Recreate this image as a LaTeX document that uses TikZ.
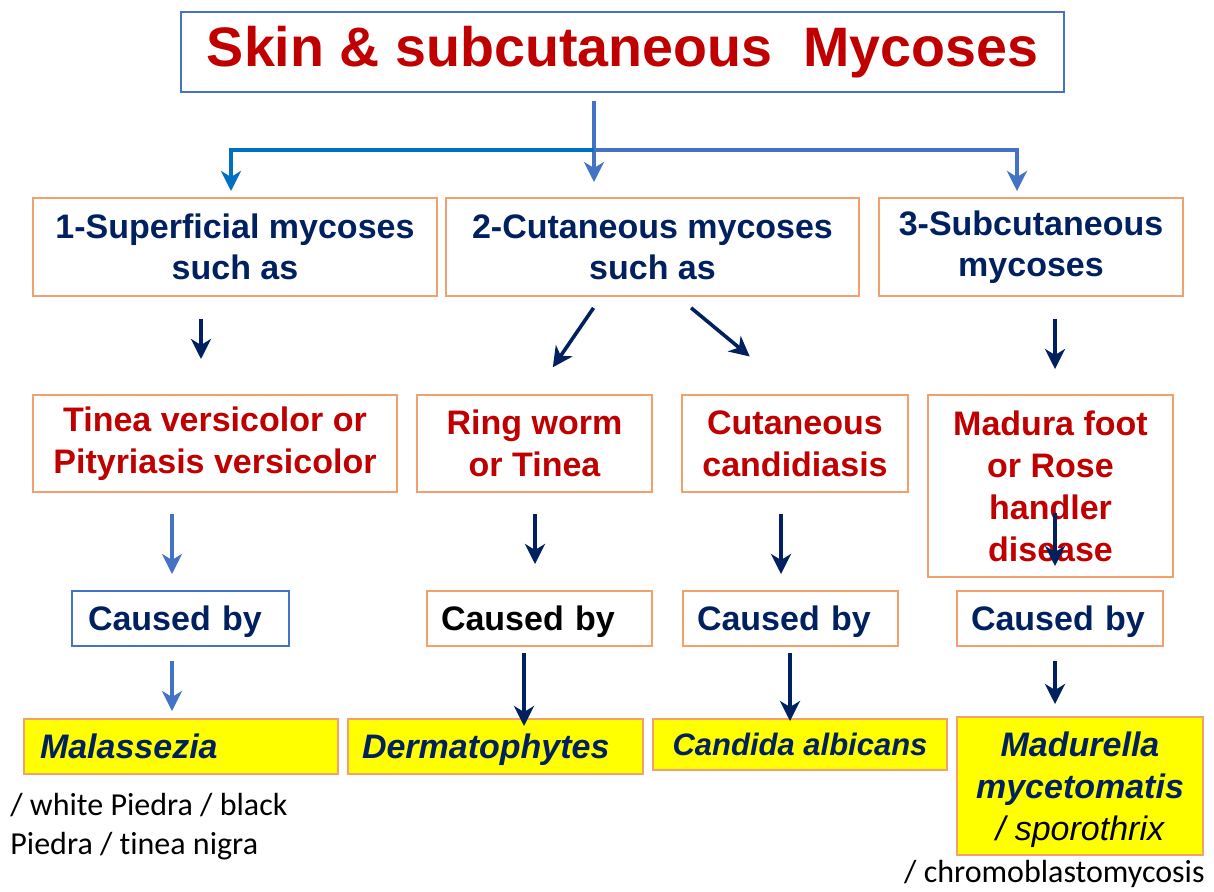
\documentclass[tikz,border=0pt]{standalone}
\usepackage{fontspec}
\setmainfont{Liberation Sans}
\newfontfamily\calib[Ligatures=NoCommon]{Carlito}
\usetikzlibrary{arrows.meta,positioning}
\definecolor{titlered}{HTML}{C00000}
\definecolor{navy}{HTML}{002060}
\definecolor{boxorange}{RGB}{244,160,110}
\definecolor{boxblue}{HTML}{4472C4}
\definecolor{deepblue}{HTML}{0070C0}
\definecolor{hiyellow}{HTML}{FFFF00}

\begin{document}
\begin{tikzpicture}[
            x=0.5pt, y=-0.5pt,
            box/.style={rectangle, draw=boxorange, line width=1pt, align=center, inner sep=0pt, text=navy, font=\bfseries\fontsize{17}{20.5}\selectfont},
            redbox/.style={box, text=titlered, font=\bfseries\fontsize{17}{21}\selectfont},
            causebox/.style={box, minimum height=27.5pt, text depth=0pt, inner xsep=7pt, align=left},
            germbox/.style={box, fill=hiyellow, minimum height=27.5pt, text depth=0pt, font=\bfseries\itshape\fontsize{17}{21}\selectfont},
            note/.style={inner sep=0pt, align=left, font=\calib\fontsize{16}{19.5}\selectfont},
            bluearr/.style={-{Stealth[length=10pt,width=10pt,inset=3pt]}, line width=2pt, draw=boxblue},
            navyarr/.style={-{Stealth[length=10pt,width=10pt,inset=3pt]}, line width=1.8pt, draw=navy}
        ]
            \useasboundingbox (0,0) rectangle (1214,891);

            % --- TITULO ---
            \node[rectangle, draw=boxblue, line width=0.8pt, minimum width=441.5pt, minimum height=40pt, inner sep=0pt, text=titlered, font=\bfseries\fontsize{27.8}{32}\selectfont] (title) at (622.5,52) {Skin \& subcutaneous\ \ Mycoses};

            % --- TIPOS ---
            \node[box, minimum width=202pt, minimum height=49pt] (sup) at (235,247) {1-Superficial mycoses\\such as};
            \node[box, minimum width=206.5pt, minimum height=49pt] (cut) at (652.5,247) {2-Cutaneous mycoses\\such as};
            \node[box, minimum width=152pt, minimum height=49pt] (subc) at (1031,247) {3-Subcutaneous\\mycoses};

            % --- DOENCAS ---
            \node[redbox, minimum width=182pt, minimum height=48.5pt] (tinea) at (215,443.5) {Tinea versicolor or\\Pityriasis versicolor};
            \node[redbox, minimum width=117.5pt, minimum height=48.5pt] (ring) at (534.5,443.5) {Ring worm\\or Tinea};
            \node[redbox, minimum width=113pt, minimum height=48.5pt] (cand) at (795,443.5) {Cutaneous\\candidiasis};
            \node[redbox, minimum width=122.5pt, minimum height=91pt] (madura) at (1050.5,486) {Madura foot\\or Rose\\handler\\disease};

            % --- CAUSED BY ---
            \node[causebox, draw=boxblue, inner xsep=8pt, text width=92.5pt] (cb1) at (180.5,618.5) {Caused by};
            \node[causebox, text=black, text width=98.5pt] (cb2) at (539.5,618.5) {Caused by};
            \node[causebox, text width=93.5pt] (cb3) at (790.5,618.5) {Caused by};
            \node[causebox, text width=89pt] (cb4) at (1060,618.5) {Caused by};

            % --- AGENTES ---
            \node[germbox, minimum width=157pt, text width=141pt, inner xsep=8pt, align=left] (mal) at (181,746.5) {Malassezia};
            \node[germbox, minimum width=147.5pt, text width=133.5pt, inner xsep=7pt, align=left] (derm) at (495.5,746.5) {Dermatophytes};
            \node[germbox, minimum width=147pt, minimum height=25.5pt, font=\bfseries\itshape\fontsize{15.5}{19}\selectfont] (calb) at (800,744.5) {Candida albicans};
            \node[germbox, minimum width=123pt, minimum height=69pt] (madur) at (1080,786) {Madurella\\mycetomatis\\{\normalfont\itshape\color{black}/ sporothrix}};

            % --- NOTAS ---
            \node[note, anchor=north west] (piedra) at (10,793) {/ white Piedra / black\\Piedra / tinea nigra};
            \node[note, anchor=base east] (chromo) at (1205,882) {/ chromoblastomycosis};

            % Ligacoes do titulo para os tres tipos
            \coordinate (fork) at (594,150);
            \draw[bluearr, shorten <=4pt, shorten >=7.5pt] (594,0 |- title.south) -- (594,0 |- cut.north);
            \draw[bluearr, draw=deepblue, shorten >=3pt] (fork) -| (231,0 |- sup.north);
            \draw[bluearr, shorten >=3pt] (fork) -| (1017,0 |- subc.north);

            % Tipos -> doencas
            \draw[navyarr, shorten <=11pt, shorten >=17.5pt] (201,0 |- sup.south) -- (201,0 |- tinea.north);
            \draw[navyarr, shorten <=6.6pt, shorten >=16.2pt] (601,0 |- cut.south) -- (ring.north);
            \draw[navyarr, shorten <=8.5pt, shorten >=29.4pt] (678,0 |- cut.south) -- (cand.north);
            \draw[navyarr, shorten <=11pt, shorten >=12.5pt] (1055,0 |- subc.south) -- (1055,0 |- madura.north);

            % Doencas -> caused by
            \draw[bluearr, shorten <=10.5pt, shorten >=8pt] (172,0 |- tinea.south) -- (172,0 |- cb1.north);
            \draw[navyarr, shorten <=10.5pt, shorten >=13pt] (535,0 |- ring.south) -- (535,0 |- cb2.north);
            \draw[navyarr, shorten <=10.5pt, shorten >=8pt] (781,0 |- cand.south) -- (781,0 |- cb3.north);
            \draw[navyarr, shorten <=13.5pt, shorten >=12pt] (1055,0 |- madura.center) -- (1055,0 |- cb4.north);

            % Caused by -> agentes
            \draw[bluearr, shorten <=7pt, shorten >=3.5pt] (172,0 |- cb1.south) -- (172,0 |- mal.north);
            \draw[navyarr, shorten <=3pt, shorten >=-4pt] (524,0 |- cb2.south) -- (524,0 |- derm.north);
            \draw[navyarr, shorten <=3pt, shorten >=-1.5pt] (790,0 |- cb3.south) -- (790,0 |- calb.north);
            \draw[navyarr, shorten <=7pt, shorten >=6pt] (1055,0 |- cb4.south) -- (1055,0 |- madur.north);

        \end{tikzpicture}
\end{document}
